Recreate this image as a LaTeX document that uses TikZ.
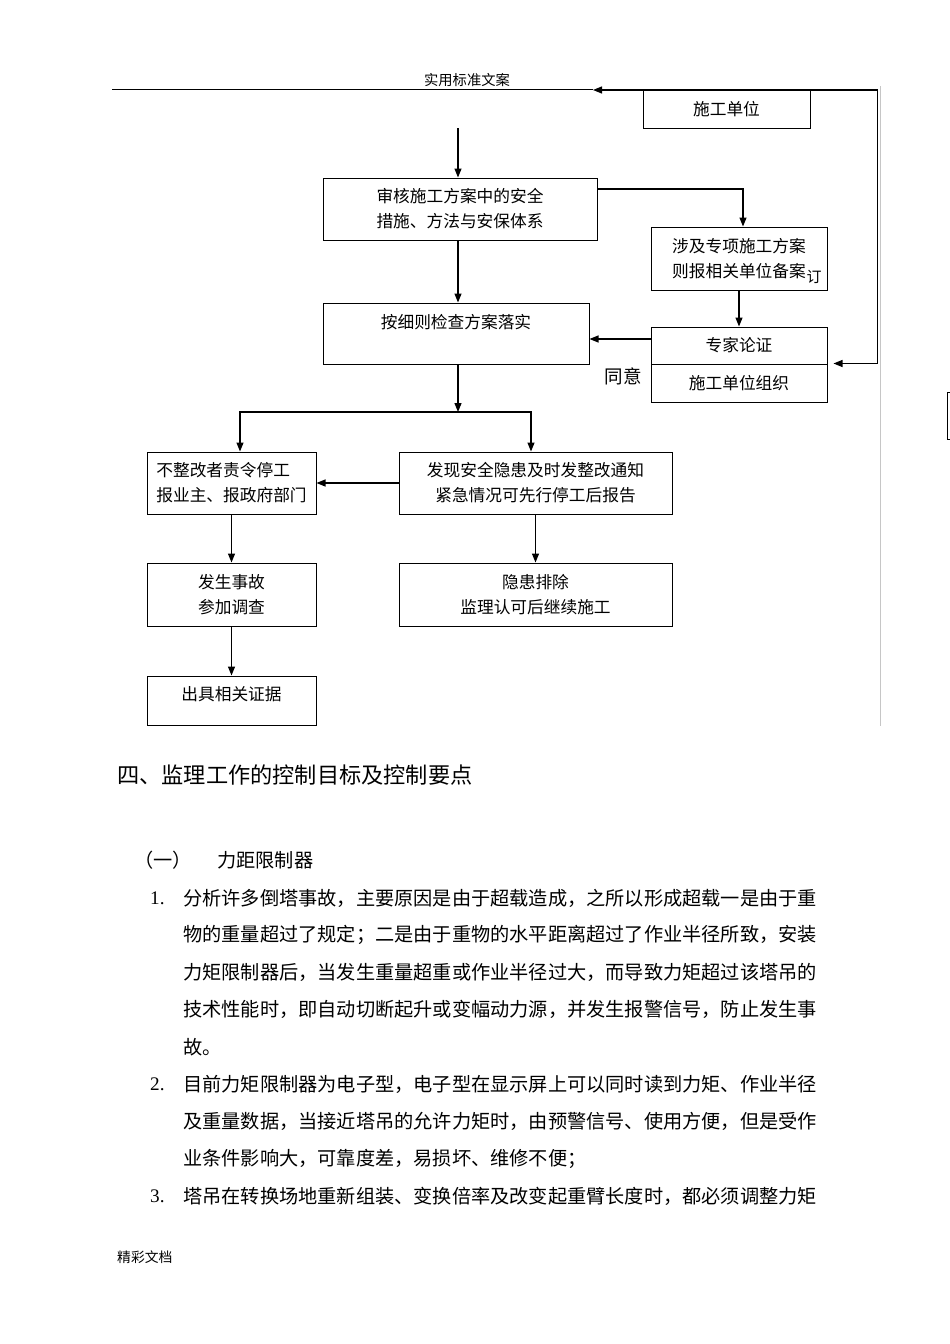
\documentclass[tikz,border=0pt]{standalone}
\usepackage{fontspec}
\setmainfont{Noto Sans CJK SC}
\newfontfamily\numfont{Liberation Serif}
\usetikzlibrary{calc,arrows.meta}
\XeTeXlinebreaklocale "zh"
\XeTeXlinebreakskip=0pt plus 1pt
\newcommand{\fline}[1]{\makebox[635pt][s]{#1}}

\begin{document}
\begin{tikzpicture}[x=1pt,y=-1pt,
    >={Triangle[length=9pt,width=7pt]},
    box/.style={draw,line width=1pt,inner sep=0pt,align=center,font=\fontsize{16.7}{25}\selectfont},
    arr/.style={->,line width=1.2pt},
    body/.style={anchor=west,inner sep=0pt,font=\fontsize{19.2}{19.2}\selectfont},
    num/.style={anchor=west,inner sep=0pt,font=\numfont\fontsize{19.2}{19.2}\selectfont},
    raised/.style={text height=12pt,text depth=#1}]

                      \fill[white] (0,0) rectangle (950,1344);
                      \useasboundingbox (0,0) rectangle (950,1344);

                      % page header and footer
                      \node[inner sep=0pt,font=\fontsize{14.3}{14.3}\selectfont] (hdr) at (467,80) {实用标准文案};
                      \draw[line width=0.6pt] (112,89) -- (593,89);
                      \node[anchor=west,inner sep=0pt,font=\fontsize{13.8}{13.8}\selectfont] (ftr) at (117,1257) {精彩文档};
                      \draw[gray!45,line width=0.8pt] (880,86) -- (880,726);
                      \draw[line width=1pt] (947,392) rectangle (956,439);

                      % flow chart
                      \node[box,minimum width=167pt,minimum height=38pt] (shigong) at (726.5,109) {施工单位};
                      \node[box,minimum width=274pt,minimum height=62pt] (shenhe) at (460,209) {审核施工方案中的安全\\措施、方法与安保体系};
                      \node[box,minimum width=176pt,minimum height=63pt] (sheji) at (739,258.5) {涉及专项施工方案\\则报相关单位备案};
                      \node[inner sep=0pt,font=\fontsize{15}{15}\selectfont] (ding) at (814,277) {订};
                      \node[box,minimum width=176pt,minimum height=37pt] (zhuanjia) at (739,345.5) {专家论证};
                      \node[box,minimum width=176pt,minimum height=38pt] (zuzhi) at (739,383) {施工单位组织};
                      \node[box,raised=22.4pt,minimum width=266pt,minimum height=61pt] (anxize) at (456,333.5) {按细则检查方案落实};
                      \node[inner sep=0pt,font=\fontsize{18.5}{18.5}\selectfont] (tongyi) at (623,376) {同意};
                      \node[box,align=left,minimum width=169pt,minimum height=62pt] (buzheng) at (231.5,483) {不整改者责令停工\\报业主、报政府部门};
                      \node[box,minimum width=273pt,minimum height=62pt] (faxian) at (535.5,483) {发现安全隐患及时发整改通知\\紧急情况可先行停工后报告};
                      \node[box,minimum width=169pt,minimum height=63pt] (fasheng) at (231.5,594.5) {发生事故\\参加调查};
                      \node[box,minimum width=273pt,minimum height=63pt] (yinhuan) at (535.5,594.5) {隐患排除\\监理认可后继续施工};
                      \node[box,raised=11.6pt,minimum width=169pt,minimum height=49pt] (chuju) at (231.5,700.5) {出具相关证据};

                      \coordinate (start) at (458,128);
                      \coordinate (ret) at (593,90);
                      \draw[arr] (start) -- (start |- shenhe.north);
                      \draw[arr] ([yshift=20pt]shenhe.east) -| ([xshift=4pt]sheji.north);
                      \draw[arr] (shenhe.south -| start) -- (anxize.north -| start);
                      \draw[arr] (sheji.south) -- (zhuanjia.north);
                      \draw[arr] ([yshift=6.5pt]zhuanjia.west) -- ([yshift=6.5pt]zhuanjia.west -| anxize.east);
                      \draw[<->,line width=1.2pt,shorten >=6pt] (ret) -| ($(zuzhi.north east)+(50,0)$) -- (zuzhi.north east);
                      \draw[arr] (anxize.south -| start) -- (458,412) coordinate (split);
                      \draw[arr] (split) -| ([xshift=8.5pt]buzheng.north);
                      \draw[arr] (split) -| ([xshift=-4.5pt]faxian.north);
                      \draw[arr] (faxian.west) -- (buzheng.east);
                      \draw[arr] (buzheng.south) -- (fasheng.north);
                      \draw[arr] (faxian.south) -- (yinhuan.north);
                      \draw[arr] (fasheng.south) -- (chuju.north);

                      % text below the chart
                      \node[anchor=west,inner sep=0pt,font=\fontsize{22.2}{22.2}\selectfont] (sec) at (117,775) {四、监理工作的控制目标及控制要点};
                      \node[body] (subno) at (134,860) {（一）};
                      \node[body] (subtt) at (217,860) {力距限制器};
                      \node[num] (n1) at (150,898) {1.};
                      \node[body] (l1) at (183,898) {\fline{分析许多倒塔事故，主要原因是由于超载造成，之所以形成超载一是由于重}};
                      \node[body] (l2) at (183,935.25) {\fline{物的重量超过了规定；二是由于重物的水平距离超过了作业半径所致，安装}};
                      \node[body] (l3) at (183,972.5) {\fline{力矩限制器后，当发生重量超重或作业半径过大，而导致力矩超过该塔吊的}};
                      \node[body] (l4) at (183,1009.75) {\fline{技术性能时，即自动切断起升或变幅动力源，并发生报警信号，防止发生事}};
                      \node[body] (l5) at (183,1047) {故。};
                      \node[num] (n2) at (150,1084.25) {2.};
                      \node[body] (l6) at (183,1084.25) {\fline{目前力矩限制器为电子型，电子型在显示屏上可以同时读到力矩、作业半径}};
                      \node[body] (l7) at (183,1121.5) {\fline{及重量数据，当接近塔吊的允许力矩时，由预警信号、使用方便，但是受作}};
                      \node[body] (l8) at (183,1158.75) {业条件影响大，可靠度差，易损坏、维修不便；};
                      \node[num] (n3) at (150,1196) {3.};
                      \node[body] (l9) at (183,1196) {\fline{塔吊在转换场地重新组装、变换倍率及改变起重臂长度时，都必须调整力矩}};
                  \end{tikzpicture}
\end{document}
